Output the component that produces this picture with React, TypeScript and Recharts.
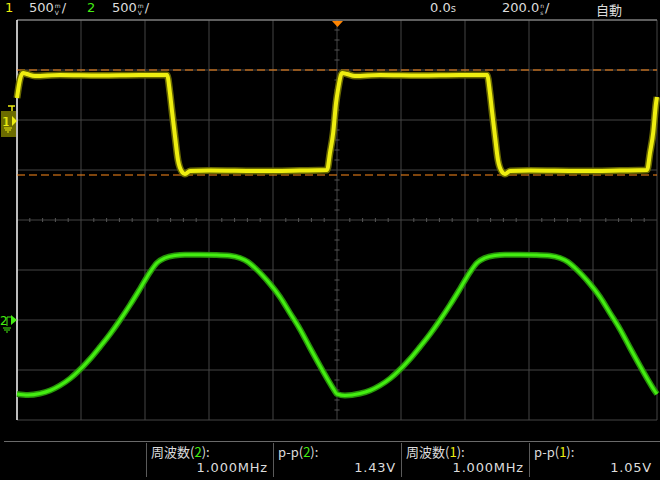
import React from "react";
import {
  LineChart,
  Line,
  XAxis,
  YAxis,
  CartesianGrid,
  ReferenceLine,
  ReferenceDot,
} from "recharts";

// time axis in ns (200 ns/div), channel voltages in V (500 mV/div)
const timeTicks = [-1000, -800, -600, -400, -200, 0, 200, 400, 600, 800, 1000];
const ch1Ticks = [-3, -2.5, -2, -1.5, -1, -0.5, 0, 0.5, 1];
const ch2Ticks = [-1, -0.5, 0, 0.5, 1, 1.5, 2, 2.5, 3];

// channel 1 (yellow square wave)
const ch1Time = [
  -1000, -991, -981, -969, -944, -866, -741, -616, -531, -522, -516, -506, -497,
  -484, -475, -459, -397, -241, -116, -31, -22, -12, -3, 3, 16, 31, 56, 134, 259,
  384, 469, 478, 484, 494, 503, 516, 525, 541, 603, 759, 884, 969, 978, 988, 997,
  1000,
];
const ch1Volts = [
  0.22, 0.4, 0.47, 0.46, 0.44, 0.45, 0.445, 0.45, 0.45, 0.27, 0.1, -0.17, -0.4,
  -0.52, -0.54, -0.51, -0.505, -0.51, -0.505, -0.5, -0.33, -0.13, 0.17, 0.3, 0.47,
  0.46, 0.44, 0.45, 0.445, 0.45, 0.45, 0.27, 0.1, -0.17, -0.4, -0.52, -0.54, -0.51,
  -0.505, -0.51, -0.505, -0.5, -0.33, -0.13, 0.17, 0.23,
];

// channel 2 (green filtered wave)
const ch2Time = [
  -1000, -966, -928, -897, -866, -834, -803, -772, -741, -709, -678, -647, -616,
  -584, -563, -538, -506, -475, -428, -381, -334, -303, -278, -256, -234, -209,
  -178, -147, -116, -84, -53, -28, -9, 0, 25, 72, 103, 134, 166, 197, 228, 259,
  291, 322, 353, 384, 416, 437, 462, 494, 525, 572, 619, 666, 697, 722, 744, 766,
  791, 822, 853, 884, 916, 947, 972, 991, 1000,
];
const ch2Volts = [
  -0.74, -0.75, -0.735, -0.705, -0.655, -0.585, -0.495, -0.39, -0.27, -0.14, 0.0,
  0.15, 0.31, 0.48, 0.57, 0.62, 0.645, 0.652, 0.652, 0.65, 0.643, 0.62, 0.58, 0.52,
  0.45, 0.36, 0.23, 0.07, -0.09, -0.28, -0.46, -0.6, -0.7, -0.74, -0.755, -0.735,
  -0.705, -0.655, -0.585, -0.495, -0.39, -0.27, -0.14, 0.0, 0.15, 0.31, 0.48, 0.57,
  0.62, 0.645, 0.652, 0.652, 0.65, 0.643, 0.62, 0.58, 0.52, 0.45, 0.36, 0.23, 0.07,
  -0.09, -0.28, -0.46, -0.6, -0.7, -0.74,
];

const cursorLevels = [0.5, -0.55];

const ch1Data = ch1Time.map((t, i) => ({ t, v: ch1Volts[i] }));
const ch2Data = ch2Time.map((t, i) => ({ t, v: ch2Volts[i] }));

// minor ticks on the centre cross
const minorX: number[] = [];
for (let k = 0; k <= 50; k++) if (k % 5 !== 0) minorX.push(-1000 + k * 40);
const minorY: number[] = [];
for (let k = 0; k <= 40; k++) if (k % 5 !== 0) minorY.push(Math.round((-3 + k * 0.1) * 100) / 100);

const FONT = "'DejaVu Sans', 'Noto Sans CJK JP', sans-serif";
const JP = "'Noto Sans CJK JP', 'DejaVu Sans', sans-serif";
const TXT = "#dcdcdc";
const YEL = "#eeee10";
const GRN = "#44ee11";

const Unit = ({ top, bottom }: { top: string; bottom: string }) => (
  <span
    style={{
      display: "inline-flex",
      flexDirection: "column",
      fontSize: 6,
      lineHeight: "7px",
      marginTop: 2,
      marginLeft: 1,
      marginRight: 1,
    }}
  >
    <span>{top}</span>
    <span>{bottom}</span>
  </span>
);

const abs = (x: number, y: number): React.CSSProperties => ({
  position: "absolute",
  left: x,
  top: y,
  whiteSpace: "nowrap",
});

const Ch1Marker = (p: any) => {
  const { cx, cy } = p;
  return (
    <g>
      <line x1={cx - 9} y1={cy - 14} x2={cx - 2} y2={cy - 14} stroke={YEL} strokeWidth={1.5} />
      <line x1={cx - 5} y1={cy - 14} x2={cx - 5} y2={cy - 9} stroke={YEL} strokeWidth={1.5} />
      <rect x={cx - 16} y={cy - 9} width={15} height={26} fill="#6b6b00" />
      <text x={cx - 15} y={cy + 6} fill={YEL} fontSize={12} fontFamily={FONT}>1</text>
      <line x1={cx - 10} y1={cy + 5} x2={cx - 10} y2={cy - 3} stroke={YEL} strokeWidth={1} />
      <line x1={cx - 13} y1={cy + 8} x2={cx - 5} y2={cy + 8} stroke={YEL} strokeWidth={1} />
      <line x1={cx - 12} y1={cy + 10} x2={cx - 6} y2={cy + 10} stroke={YEL} strokeWidth={1} />
      <line x1={cx - 10} y1={cy + 12} x2={cx - 8} y2={cy + 12} stroke={YEL} strokeWidth={1} />
      <path d={`M${cx - 5},${cy - 4} L${cx},${cy + 1} L${cx - 5},${cy + 6} Z`} fill={YEL} />
    </g>
  );
};

const Ch2Marker = (p: any) => {
  const { cx, cy } = p;
  return (
    <g>
      <text x={cx - 17} y={cy + 5} fill={GRN} fontSize={12} fontFamily={FONT}>2</text>
      <path
        d={`M${cx - 10},${cy + 6} L${cx - 10},${cy - 3} L${cx - 6},${cy - 3}`}
        stroke={GRN}
        fill="none"
        strokeWidth={1}
      />
      <path d={`M${cx - 6},${cy - 5} L${cx},${cy} L${cx - 6},${cy + 5} Z`} fill={GRN} />
      <line x1={cx - 14} y1={cy + 8} x2={cx - 6} y2={cy + 8} stroke={GRN} strokeWidth={1} />
      <line x1={cx - 13} y1={cy + 10} x2={cx - 7} y2={cy + 10} stroke={GRN} strokeWidth={1} />
      <line x1={cx - 11} y1={cy + 12} x2={cx - 9} y2={cy + 12} stroke={GRN} strokeWidth={1} />
    </g>
  );
};

const TrigMarker = (p: any) => {
  const { cx, cy } = p;
  return <path d={`M${cx - 5},${cy + 1} L${cx + 6},${cy + 1} L${cx + 0.5},${cy + 7} Z`} fill="#ff8400" />;
};

const Measure = ({
  x,
  w,
  label,
  ch,
  chColor,
  value,
}: {
  x: number;
  w: number;
  label: string;
  ch: string;
  chColor: string;
  value: string;
}) => (
  <>
    <div style={{ ...abs(x, 443), width: 1, height: 34, background: "#5a5a5a" }} />
    <div style={{ ...abs(x + 5, 442), fontSize: 13, fontFamily: JP, color: TXT }}>
      {label}(<span style={{ color: chColor }}>{ch}</span>):
    </div>
    <div
      style={{
        ...abs(x, 460),
        width: w - 5,
        textAlign: "right",
        fontSize: 13,
        fontFamily: FONT,
        color: TXT,
        letterSpacing: 0.8,
      }}
    >
      {value}
    </div>
  </>
);

export default function App() {
  return (
    <div
      style={{
        position: "fixed",
        left: 0,
        top: 0,
        width: 660,
        height: 480,
        background: "#000",
        overflow: "hidden",
      }}
    >
      <LineChart
        width={660}
        height={480}
        margin={{ top: 20, right: 3, bottom: 60, left: 17 }}
      >
        <XAxis type="number" dataKey="t" domain={[-1000, 1000]} ticks={timeTicks} hide />
        <YAxis yAxisId="ch1" type="number" domain={[-3, 1]} ticks={ch1Ticks} hide />
        <YAxis yAxisId="ch2" type="number" domain={[-1, 3]} ticks={ch2Ticks} hide />
        <CartesianGrid yAxisId="ch1" stroke="#444" strokeWidth={1} />
        {minorX.map((t) => (
          <ReferenceLine
            key={"mx" + t}
            yAxisId="ch1"
            segment={[
              { x: t, y: -1.02 },
              { x: t, y: -0.98 },
            ]}
            stroke="#555"
          />
        ))}
        {minorY.map((v) => (
          <ReferenceLine
            key={"my" + v}
            yAxisId="ch1"
            segment={[
              { x: -8, y: v },
              { x: 8, y: v },
            ]}
            stroke="#555"
          />
        ))}
        <ReferenceLine yAxisId="ch1" y={1} stroke="#9a9a9a" />
        <ReferenceLine yAxisId="ch1" x={-1000} stroke="#f0f0f0" strokeWidth={1.5} />
        {cursorLevels.map((v) => (
          <ReferenceLine
            key={"c" + v}
            yAxisId="ch1"
            y={v}
            stroke="#ff8a1a"
            strokeDasharray="8 4"
          />
        ))}
        <Line
          yAxisId="ch2"
          data={ch2Data}
          dataKey="v"
          type="monotone"
          stroke="#27920a"
          strokeWidth={6}
          dot={false}
          isAnimationActive={false}
        />
        <Line
          yAxisId="ch2"
          data={ch2Data}
          dataKey="v"
          type="monotone"
          stroke={GRN}
          strokeWidth={3}
          dot={false}
          isAnimationActive={false}
        />
        <Line
          yAxisId="ch1"
          data={ch1Data}
          dataKey="v"
          type="monotone"
          stroke="#686800"
          strokeWidth={7}
          dot={false}
          isAnimationActive={false}
        />
        <Line
          yAxisId="ch1"
          data={ch1Data}
          dataKey="v"
          type="monotone"
          stroke={YEL}
          strokeWidth={4}
          dot={false}
          isAnimationActive={false}
        />
        <ReferenceDot yAxisId="ch1" x={-1000} y={0} ifOverflow="visible" shape={Ch1Marker} />
        <ReferenceDot yAxisId="ch2" x={-1000} y={0} ifOverflow="visible" shape={Ch2Marker} />
        <ReferenceDot yAxisId="ch1" x={0} y={1} ifOverflow="visible" shape={TrigMarker} />
      </LineChart>

      {/* header */}
      <div style={{ ...abs(5, 0), fontSize: 13, fontFamily: FONT, color: YEL }}>1</div>
      <div style={{ ...abs(29, 0), fontSize: 13, fontFamily: FONT, color: TXT, display: "flex" }}>
        500<Unit top="m" bottom="V" />/
      </div>
      <div style={{ ...abs(87, 0), fontSize: 13, fontFamily: FONT, color: GRN }}>2</div>
      <div style={{ ...abs(112, 0), fontSize: 13, fontFamily: FONT, color: TXT, display: "flex" }}>
        500<Unit top="m" bottom="V" />/
      </div>
      <div style={{ ...abs(430, 0), fontSize: 13, fontFamily: FONT, color: TXT }}>
        0.0<span style={{ fontSize: 10 }}>s</span>
      </div>
      <div style={{ ...abs(502, 0), fontSize: 13, fontFamily: FONT, color: TXT, display: "flex" }}>
        200.0<Unit top="n" bottom="s" />/
      </div>
      <div style={{ ...abs(596, 0), fontSize: 13, fontFamily: JP, color: TXT }}>自動</div>

      {/* measurement bar */}
      <div style={{ ...abs(4, 441), width: 656, height: 1, background: "#6a6a6a" }} />
      <Measure x={146} w={127} label="周波数" ch="2" chColor={GRN} value="1.000MHz" />
      <Measure x={273} w={128} label="p-p" ch="2" chColor={GRN} value="1.43V" />
      <Measure x={401} w={128} label="周波数" ch="1" chColor={YEL} value="1.000MHz" />
      <Measure x={529} w={128} label="p-p" ch="1" chColor={YEL} value="1.05V" />
    </div>
  );
}
